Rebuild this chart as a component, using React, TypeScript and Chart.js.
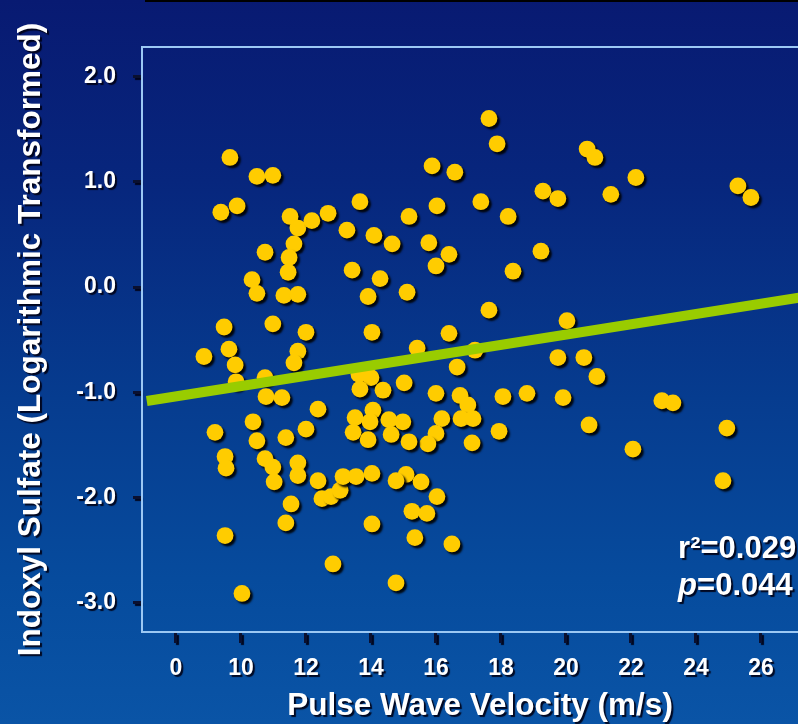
import React, { useEffect, useRef } from 'react';
import { Chart, registerables } from 'chart.js';

Chart.register(...registerables);

// Pulse wave velocity (m/s) for each patient
const PWV = [
  9.66, 10.49, 10.98, 9.38, 9.88, 11.51, 11.75, 12.18, 12.68, 13.66,
  13.26, 14.09, 14.65, 10.74, 11.63, 11.48, 11.45, 13.42, 14.28, 10.34,
  10.49, 11.32, 11.75, 13.91, 15.11, 9.48, 10.98, 12.0, 14.03, 8.86,
  9.63, 11.75, 11.63, 9.82, 9.85, 10.74, 10.77, 11.26, 13.63, 14.0,
  13.66, 14.37, 12.37, 10.37, 9.2, 10.49, 11.38, 12.0, 13.51, 14.06,
  13.97, 13.45, 13.91, 14.55, 14.62, 9.51, 9.54, 10.74, 10.98, 11.02,
  11.75, 11.75, 12.37, 12.49, 12.77, 13.05, 13.14, 13.54, 14.03, 11.54,
  11.38, 9.51, 12.83, 14.03, 10.03, 14.77,
  17.63, 17.88, 15.88, 16.58, 19.29, 19.75, 16.03, 17.38, 15.17, 18.22,
  15.78, 16.4, 16.0, 19.23, 18.37, 17.63, 16.4, 15.42, 17.2, 20.03,
  19.75, 20.55, 16.65, 15.02, 16.0, 16.74, 16.98, 18.06, 18.8, 19.91,
  14.98, 16.18, 16.77, 17.14, 16.0, 15.75, 15.17, 17.11, 17.94, 15.08,
  14.77, 15.54, 16.03, 15.26, 15.72, 15.35, 16.49,
  20.65, 20.89, 22.15, 21.38, 25.29, 25.69, 20.95, 20.71, 22.06, 22.95,
  23.29, 24.95, 24.83,
];

// Indoxyl sulfate (log transformed) for each patient
const INDOXYL = [
  1.23, 1.05, 1.06, 0.71, 0.77, 0.67, 0.56, 0.63, 0.7, 0.81,
  0.54, 0.49, 0.41, 0.33, 0.41, 0.28, 0.14, 0.16, 0.08, 0.07,
  -0.06, -0.08, -0.07, -0.09, -0.05, -0.38, -0.35, -0.43, -0.43, -0.66,
  -0.59, -0.61, -0.72, -0.74, -0.9, -0.86, -1.04, -1.05, -0.83, -0.86,
  -0.97, -0.98, -1.16, -1.28, -1.38, -1.46, -1.43, -1.35, -1.24, -1.17,
  -1.28, -1.38, -1.45, -1.26, -1.4, -1.61, -1.72, -1.63, -1.71, -1.85,
  -1.67, -1.79, -1.84, -2.01, -1.99, -1.93, -1.8, -1.8, -1.77, -2.06,
  -2.24, -2.36, -2.63, -2.25, -2.91, -2.81,
  1.6, 1.36, 1.15, 1.09, 0.91, 0.84, 0.77, 0.81, 0.67, 0.67,
  0.42, 0.31, 0.2, 0.34, 0.15, -0.22, -0.44, -0.58, -0.6, -0.32,
  -0.67, -0.67, -0.76, -0.91, -1.01, -1.03, -1.12, -1.04, -1.01, -1.05,
  -1.28, -1.25, -1.25, -1.25, -1.39, -1.49, -1.47, -1.48, -1.37, -1.78,
  -1.84, -1.85, -1.99, -2.13, -2.15, -2.38, -2.44,
  1.31, 1.23, 1.04, 0.88, 0.96, 0.85, -0.85, -1.31, -1.54, -1.08,
  -1.1, -1.34, -1.84,
];

// Regression line end points
const FIT_X = [7.1, 27.75];
const FIT_Y = [-1.083, -0.074];

// Axis ticks (the first x tick marks the axis break, labelled "0")
const X_TICKS = [8, 10, 12, 14, 16, 18, 20, 22, 24, 26];
const X_TICK_LABELS = ['0', '10', '12', '14', '16', '18', '20', '22', '24', '26'];
const Y_TICKS = [-3, -2, -1, 0, 1, 2];
const Y_TICK_LABELS = ['-3.0', '-2.0', '-1.0', '0.0', '1.0', '2.0'];

const X_TITLE = 'Pulse Wave Velocity (m/s)';
const Y_TITLE = 'Indoxyl Sulfate (Logarithmic Transformed)';
const R2_TEXT = 'r\u00B2=0.029';
const P_LETTER = 'p';
const P_TEXT = '=0.044';

const FONT = '"Liberation Sans", Arial, Helvetica, sans-serif';
const AXIS_LINE = '#9cc8f4';
const TICK_MARK = '#0a1030';

function setShadow(ctx: CanvasRenderingContext2D, color: string, dx: number, dy: number, blur: number) {
  ctx.shadowColor = color;
  ctx.shadowOffsetX = dx;
  ctx.shadowOffsetY = dy;
  ctx.shadowBlur = blur;
}
function clearShadow(ctx: CanvasRenderingContext2D) {
  setShadow(ctx, 'rgba(0,0,0,0)', 0, 0, 0);
}

const decorPlugin = {
  id: 'decor',
  beforeDraw(chart: any) {
    setShadow(chart.ctx, 'rgba(0,0,20,0.9)', 2, 2, 1);
  },
  beforeDatasetsDraw(chart: any) {
    clearShadow(chart.ctx);
  },
  beforeDatasetDraw(chart: any, args: any) {
    if (args.index === 0) setShadow(chart.ctx, 'rgba(0,0,0,0.9)', 2.5, 2.5, 2);
  },
  afterDatasetDraw(chart: any) {
    clearShadow(chart.ctx);
  },
  afterDraw(chart: any) {
    const ctx: CanvasRenderingContext2D = chart.ctx;
    const area = chart.chartArea;
    ctx.save();
    clearShadow(ctx);
    ctx.strokeStyle = AXIS_LINE;
    ctx.lineWidth = 2;
    ctx.beginPath();
    ctx.moveTo(area.left - 1, area.top);
    ctx.lineTo(area.right, area.top);
    ctx.stroke();

    const xs = chart.scales.x;
    const ys = chart.scales.y;
    const tx = xs.getPixelForValue(23.45);
    const y1 = ys.getPixelForValue(-2.57);
    const y2 = ys.getPixelForValue(-2.92);
    setShadow(ctx, 'rgba(0,0,20,0.9)', 2, 2, 1);
    ctx.fillStyle = '#ffffff';
    ctx.textBaseline = 'alphabetic';
    ctx.textAlign = 'left';
    ctx.font = `bold 31px ${FONT}`;
    ctx.fillText(R2_TEXT, tx, y1);
    ctx.font = `italic bold 31px ${FONT}`;
    ctx.fillText(P_LETTER, tx, y2);
    const pw = ctx.measureText(P_LETTER).width;
    ctx.font = `bold 31px ${FONT}`;
    ctx.fillText(P_TEXT, tx + pw, y2);
    ctx.restore();
  },
};

export default function App() {
  const ref = useRef<HTMLCanvasElement>(null);

  useEffect(() => {
    document.body.style.margin = '0';
    document.body.style.overflow = 'hidden';
    const canvas = ref.current;
    if (!canvas) return;

    const points = PWV.map((x, i) => ({ x, y: INDOXYL[i] }));
    const fit = FIT_X.map((x, i) => ({ x, y: FIT_Y[i] }));

    const chart = new Chart(canvas, {
      type: 'scatter',
      data: {
        datasets: [
          {
            label: 'Patients',
            data: points,
            order: 2,
            pointRadius: 8.4,
            pointHoverRadius: 8.4,
            pointBackgroundColor: '#ffcc00',
            pointBorderWidth: 0,
            pointBorderColor: '#ffcc00',
          },
          {
            label: 'Regression',
            data: fit,
            order: 1,
            showLine: true,
            pointRadius: 0,
            borderColor: '#99cc00',
            borderWidth: 10,
            borderCapStyle: 'butt',
            fill: false,
          },
        ],
      },
      options: {
        animation: false,
        responsive: false,
        devicePixelRatio: 1,
        events: [],
        layout: { autoPadding: false, padding: { top: 47, left: 0, right: 0, bottom: 0 } },
        plugins: {
          legend: { display: false },
          tooltip: { enabled: false },
        },
        scales: {
          x: {
            type: 'linear',
            min: 6.954,
            max: 27.754,
            afterFit: (scale: any) => {
              scale.height = 92;
            },
            afterBuildTicks: (scale: any) => {
              scale.ticks = X_TICKS.map((v) => ({ value: v }));
            },
            ticks: {
              autoSkip: false,
              maxRotation: 0,
              padding: 12,
              color: '#ffffff',
              font: { family: FONT, size: 23, weight: 'bold' },
              callback: (value: any) => {
                const i = X_TICKS.indexOf(Number(value));
                return i >= 0 ? X_TICK_LABELS[i] : '';
              },
            },
            grid: {
              drawOnChartArea: false,
              drawTicks: true,
              tickLength: 11,
              tickWidth: 3,
              tickColor: TICK_MARK,
            },
            border: { display: true, color: AXIS_LINE, width: 2, z: 1 },
            title: {
              display: true,
              text: X_TITLE,
              color: '#ffffff',
              padding: 0,
              font: { family: FONT, size: 31.5, weight: 'bold', lineHeight: 1.1 },
            },
          },
          y: {
            type: 'linear',
            min: -3.276,
            max: 2.279,
            afterFit: (scale: any) => {
              scale.width = 142;
            },
            afterBuildTicks: (scale: any) => {
              scale.ticks = Y_TICKS.map((v) => ({ value: v }));
            },
            ticks: {
              autoSkip: false,
              padding: 17,
              color: '#ffffff',
              font: { family: FONT, size: 23, weight: 'bold' },
              callback: (value: any) => {
                const i = Y_TICKS.indexOf(Number(value));
                return i >= 0 ? Y_TICK_LABELS[i] : '';
              },
            },
            grid: {
              drawOnChartArea: false,
              drawTicks: true,
              tickLength: 9,
              tickWidth: 3,
              tickColor: TICK_MARK,
            },
            border: { display: true, color: AXIS_LINE, width: 2, z: 1 },
            title: {
              display: true,
              text: Y_TITLE,
              color: '#ffffff',
              padding: { top: 14, bottom: 0 },
              font: { family: FONT, size: 31.5, weight: 'bold', lineHeight: 1.1 },
            },
          },
        },
      },
      plugins: [decorPlugin],
    } as any);

    return () => chart.destroy();
  }, []);

  return (
    <div
      style={{
        position: 'relative',
        width: 798,
        height: 724,
        overflow: 'hidden',
        background:
          'linear-gradient(to bottom, #081a72 0%, #07267d 25%, #063c8f 55%, #064b9d 80%, #0a54a6 100%)',
      }}
    >
      <div style={{ position: 'absolute', left: 145, top: 0, right: 0, height: 2, background: '#000000' }} />
      <canvas
        ref={ref}
        width={818}
        height={724}
        style={{ position: 'absolute', left: 0, top: 0, width: 818, height: 724 }}
      />
    </div>
  );
}
